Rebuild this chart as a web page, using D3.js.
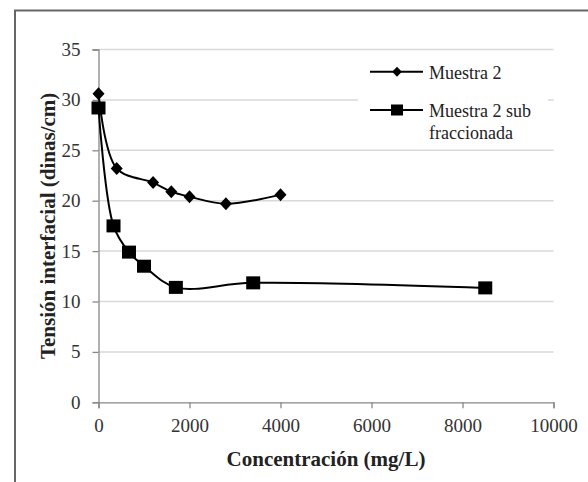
<!doctype html>
<html lang="es">
  <head>
    <meta charset="UTF-8" />
    <title>Tensión interfacial</title>
    <style>
      body {
        margin: 0;
        background: #fff;
      }
      svg {
        display: block;
      }
      svg text {
        font-family: "Liberation Serif", "DejaVu Serif", serif;
      }
    </style>
  </head>
  <body>
    <svg id="chart" width="588" height="482"></svg>

    <script src="https://d3js.org/d3.v7.min.js"></script>
    <script>
      // data
      const conc1 = [0, 400, 1200, 1600, 2000, 2800, 4000];
      const tension1 = [30.6, 23.2, 21.8, 20.9, 20.4, 19.7, 20.6];
      const conc2 = [0, 330, 670, 1000, 1700, 3400, 8500];
      const tension2 = [29.2, 17.5, 14.9, 13.5, 11.4, 11.85, 11.35];

      const xTicks = [0, 2000, 4000, 6000, 8000, 10000];
      const yTicks = [0, 5, 10, 15, 20, 25, 30, 35];
      const seriesNames = ["Muestra 2", "Muestra 2 sub fraccionada"];

      const serif = "'Liberation Serif', 'DejaVu Serif', serif";
      const svg = d3.select("#chart");
      const plot = { left: 98.5, right: 553.5, top: 49.5, bottom: 402.3 };

      const x = d3.scaleLinear().domain([0, 10000]).range([plot.left, plot.right]);
      const y = d3.scaleLinear().domain([0, 35]).range([plot.bottom, plot.top]);

      const diamondPath = (w, h) => `M0,${-h}L${w},0L0,${h}L${-w},0Z`;

      // outer frame (only top and left edges show)
      svg
        .append("path")
        .attr("d", "M15,482 V10.5 H588")
        .attr("fill", "none")
        .attr("stroke", "#666")
        .attr("stroke-width", 2);

      // gridlines
      svg
        .append("g")
        .selectAll("line")
        .data(yTicks.filter((d) => d > 0))
        .join("line")
        .attr("x1", plot.left)
        .attr("x2", plot.right)
        .attr("y1", (d) => y(d))
        .attr("y2", (d) => y(d))
        .attr("stroke", "#d9d9d9")
        .attr("stroke-width", 1.5);

      // axes
      const yAxis = svg
        .append("g")
        .attr("transform", `translate(${plot.left},0)`)
        .call(
          d3
            .axisLeft(y)
            .tickValues(yTicks)
            .tickSize(6)
            .tickPadding(12)
            .tickFormat(d3.format("d")),
        );

      const xAxis = svg
        .append("g")
        .attr("transform", `translate(0,${plot.bottom})`)
        .call(
          d3
            .axisBottom(x)
            .tickValues(xTicks)
            .tickSize(6)
            .tickPadding(10)
            .tickFormat(d3.format("d")),
        );

      [xAxis, yAxis].forEach((g) => {
        g.attr("font-family", serif).attr("font-size", 19);
        g.select(".domain").attr("stroke", "#888").attr("stroke-width", 1.3);
        g.selectAll(".tick line").attr("stroke", "#888").attr("stroke-width", 1.3);
        g.selectAll(".tick text").attr("fill", "#333");
      });

      // axis titles
      svg
        .append("text")
        .attr("x", (plot.left + plot.right) / 2)
        .attr("y", 466)
        .attr("text-anchor", "middle")
        .attr("font-family", serif)
        .attr("font-weight", "bold")
        .attr("font-size", 21)
        .attr("fill", "#222")
        .text("Concentración (mg/L)");

      svg
        .append("text")
        .attr("transform", `translate(55,${(plot.top + plot.bottom) / 2}) rotate(-90)`)
        .attr("text-anchor", "middle")
        .attr("font-family", serif)
        .attr("font-weight", "bold")
        .attr("font-size", 21)
        .attr("fill", "#222")
        .text("Tensión interfacial (dinas/cm)");

      // series
      const line = d3
        .line()
        .x((d) => x(d[0]))
        .y((d) => y(d[1]))
        .curve(d3.curveCatmullRom.alpha(0.5));

      const s1 = conc1.map((c, i) => [c, tension1[i]]);
      const s2 = conc2.map((c, i) => [c, tension2[i]]);

      [s1, s2].forEach((pts) => {
        svg
          .append("path")
          .datum(pts)
          .attr("d", line)
          .attr("fill", "none")
          .attr("stroke", "#000")
          .attr("stroke-width", 2);
      });

      svg
        .append("g")
        .selectAll("path")
        .data(s1)
        .join("path")
        .attr("transform", (d) => `translate(${x(d[0])},${y(d[1])})`)
        .attr("d", diamondPath(6, 6.5))
        .attr("fill", "#000");

      svg
        .append("g")
        .selectAll("rect")
        .data(s2)
        .join("rect")
        .attr("x", (d) => x(d[0]) - 7)
        .attr("y", (d) => y(d[1]) - 6.5)
        .attr("width", 14)
        .attr("height", 13)
        .attr("fill", "#000");

      // legend
      const legend = svg.append("g");
      legend
        .append("rect")
        .attr("x", 358)
        .attr("y", 56)
        .attr("width", 190)
        .attr("height", 88)
        .attr("fill", "#fff");

      const legendRows = [
        { y: 71.7, mark: "diamond" },
        { y: 110, mark: "square" },
      ];

      legendRows.forEach((r) => {
        legend
          .append("line")
          .attr("x1", 370)
          .attr("x2", 423)
          .attr("y1", r.y)
          .attr("y2", r.y)
          .attr("stroke", "#000")
          .attr("stroke-width", 2);
        if (r.mark === "diamond") {
          legend
            .append("path")
            .attr("transform", `translate(397,${r.y})`)
            .attr("d", diamondPath(4.8, 5))
            .attr("fill", "#000");
        } else {
          legend
            .append("rect")
            .attr("x", 391)
            .attr("y", r.y - 5.5)
            .attr("width", 12)
            .attr("height", 11)
            .attr("fill", "#000");
        }
      });

      legend
        .append("text")
        .attr("x", 429)
        .attr("y", 78.5)
        .attr("font-family", serif)
        .attr("font-size", 18)
        .attr("fill", "#222")
        .text(seriesNames[0]);

      const t2 = legend
        .append("text")
        .attr("x", 429)
        .attr("y", 117)
        .attr("font-family", serif)
        .attr("font-size", 18)
        .attr("fill", "#222");
      t2.append("tspan").attr("x", 429).text("Muestra 2 sub");
      t2.append("tspan").attr("x", 429).attr("dy", 22).text("fraccionada");
    </script>
  </body>
</html>
